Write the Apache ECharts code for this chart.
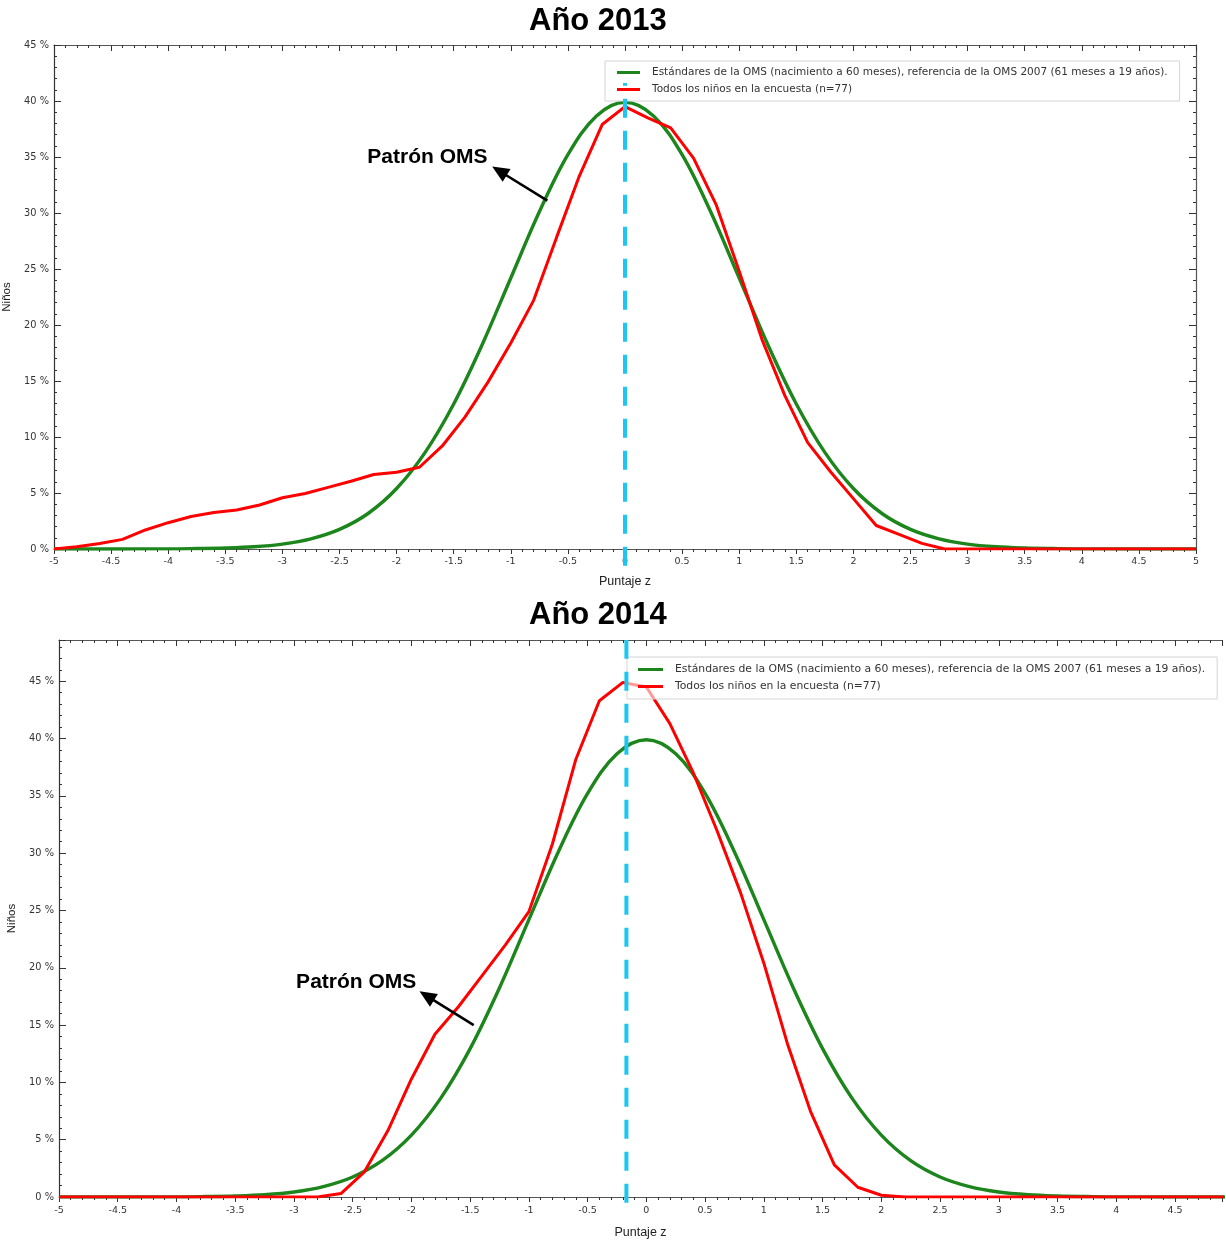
<!DOCTYPE html>
<html>
<head>
<meta charset="utf-8">
<title>Puntaje z – Años 2013 y 2014</title>
<script src="https://cdn.jsdelivr.net/npm/echarts@6/dist/echarts.min.js"></script>
<style>
  html, body { margin: 0; padding: 0; background: #fff; }
  #chart { width: 1226px; height: 1241px; }
</style>
</head>
<body>
<div id="chart"></div>
<script>
// ---- Data -------------------------------------------------------------
const nameOMS = 'Estándares de la OMS (nacimiento a 60 meses), referencia de la OMS 2007 (61 meses a 19 años).';
const nameEncuesta = 'Todos los niños en la encuesta (n=77)';
const titles = ['Año 2013', 'Año 2014'];

// WHO reference curve (% of children by z-score)
const zOMS = [-5, -4.75, -4.5, -4.25, -4, -3.75, -3.5, -3.25, -3, -2.75, -2.5, -2.25, -2, -1.75, -1.5, -1.25, -1, -0.75, -0.5, -0.25,
              0, 0.25, 0.5, 0.75, 1, 1.25, 1.5, 1.75, 2, 2.25, 2.5, 2.75, 3, 3.25, 3.5, 3.75, 4, 4.25, 4.5, 4.75, 5];
const pctOMS = [0, 0, 0, 0.01, 0.01, 0.04, 0.09, 0.2, 0.44, 0.91, 1.75, 3.17, 5.4, 8.63, 12.95, 18.26, 24.2, 30.11, 35.21, 38.67,
                39.89, 38.67, 35.21, 30.11, 24.2, 18.26, 12.95, 8.63, 5.4, 3.17, 1.75, 0.91, 0.44, 0.2, 0.09, 0.04, 0.01, 0.01, 0, 0, 0];

// Survey curves (z-score every 0.2)
const zEncuesta = [-5, -4.8, -4.6, -4.4, -4.2, -4, -3.8, -3.6, -3.4, -3.2, -3, -2.8, -2.6, -2.4, -2.2, -2, -1.8, -1.6, -1.4, -1.2, -1,
                   -0.8, -0.6, -0.4, -0.2, 0, 0.2, 0.4, 0.6, 0.8, 1, 1.2, 1.4, 1.6, 1.8, 2, 2.2, 2.4, 2.6, 2.8,
                   3, 3.2, 3.4, 3.6, 3.8, 4, 4.2, 4.4, 4.6, 4.8, 5];
const pct2013 = [0, 0.2, 0.5, 0.86, 1.7, 2.35, 2.9, 3.25, 3.48, 3.93, 4.58, 4.95, 5.5, 6.05, 6.65, 6.85, 7.3, 9.2, 11.8, 14.9, 18.4,
                 22.2, 27.8, 33.3, 37.9, 39.5, 38.5, 37.6, 34.9, 30.7, 24.8, 18.7, 13.7, 9.5, 6.9, 4.5, 2.1, 1.3, 0.5, 0,
                 0, 0, 0, 0, 0, 0, 0, 0, 0, 0, 0];
const pct2014 = [0, 0, 0, 0, 0, 0, 0, 0, 0, 0, 0, 0, 0.3, 2.2, 5.8, 10.3, 14.2, 16.6, 19.3, 22.0, 24.9,
                 30.8, 38.2, 43.3, 44.9, 44.5, 41.3, 37.0, 32.0, 26.6, 20.4, 13.4, 7.4, 2.8, 0.85, 0.15, 0, 0, 0, 0,
                 0, 0, 0, 0, 0, 0, 0, 0, 0, 0, 0];

// Mean z-score of each survey (dashed vertical line)
const zMedia = [0, -0.17];

// Axis ranges
const xMax = [5, 4.9];
const yMax = [45, 48.6];

// ---- Styling ------------------------------------------------------------
const GREEN = '#1c861c';
const RED = '#ff0000';
const BLUE = '#1cc6f2';
const smallFont = 'DejaVu Sans';
const mainFont = 'Liberation Sans, Arial, sans-serif';

const pairs = (xs, ys) => xs.map((x, i) => [x, ys[i]]);

// Annotation ("Patrón OMS" + arrow) in data coordinates for each panel
const notes = [
  { text: [-1.73, 35.0], from: [-0.68, 31.1], to: [-1.10, 33.75] },
  { text: [-2.47, 18.7], from: [-1.47, 15.0], to: [-1.87, 17.55] }
];

const grids = [
  { left: 54, right: 30, top: 45, bottom: 692, containLabel: false, outerBoundsMode: 'none' },
  { left: 59, right: 4, top: 640, bottom: 44, containLabel: false, outerBoundsMode: 'none' }
];

function bottomX(g) {
  return {
    type: 'value', gridIndex: g, position: 'bottom', min: -5, max: xMax[g], interval: 0.5,
    name: 'Puntaje z', nameLocation: 'middle', nameGap: g === 0 ? 26 : 29,
    nameTextStyle: { fontFamily: mainFont, fontSize: 12.5, color: '#222', verticalAlign: 'top' },
    axisLine: { onZero: false, lineStyle: { color: '#555', width: 1.2 } },
    axisTick: { inside: false, length: 5, lineStyle: { color: '#333' } },
    minorTick: { show: true, splitNumber: 5, length: 3, lineStyle: { color: '#333' } },
    axisLabel: { fontFamily: smallFont, fontSize: 9.5, color: '#333', margin: g === 0 ? 8 : 9, showMaxLabel: g === 0 },
    splitLine: { show: false }, minorSplitLine: { show: false }
  };
}
function topX(g) {
  return {
    type: 'value', gridIndex: g, position: 'top', min: -5, max: xMax[g], interval: 0.5,
    axisLine: { onZero: false, lineStyle: { color: '#555', width: 1.2 } },
    axisTick: { inside: true, length: 6, lineStyle: { color: '#333' } },
    minorTick: { show: true, splitNumber: 5, length: 3, lineStyle: { color: '#333' } },
    axisLabel: { show: false }, splitLine: { show: false }
  };
}
function leftY(g) {
  return {
    type: 'value', gridIndex: g, position: 'left', min: 0, max: yMax[g], interval: 5,
    name: 'Niños', nameLocation: 'middle', nameGap: g === 0 ? 39 : 41, nameRotate: 90,
    nameTextStyle: { fontFamily: mainFont, fontSize: 11.5, color: '#222' },
    axisLine: { show: true, onZero: false, lineStyle: { color: '#333', width: 1.2 } },
    axisTick: { show: true, inside: true, length: 7, lineStyle: { color: '#333' } },
    minorTick: { show: true, splitNumber: 5, length: 3, lineStyle: { color: '#333' } },
    axisLabel: { fontFamily: smallFont, fontSize: 9.8, color: '#333', margin: 5,
                 showMaxLabel: g === 0, formatter: v => v + ' %' },
    splitLine: { show: false }
  };
}

const xAxes = [bottomX(0), topX(0), bottomX(1), topX(1)];
const yAxes = [leftY(0), leftY(1), {
  type: 'value', gridIndex: 0, position: 'right', min: 0, max: yMax[0], interval: 5,
  axisLine: { show: true, onZero: false, lineStyle: { color: '#555', width: 1.2 } },
  axisTick: { show: true, inside: true, length: 7, lineStyle: { color: '#333' } },
  minorTick: { show: true, splitNumber: 5, length: 3, lineStyle: { color: '#333' } },
  axisLabel: { show: false }, splitLine: { show: false }
}];

const surveys = [pct2013, pct2014];
const series = [];
[0, 1].forEach(g => {
  const xi = g === 0 ? 0 : 2;
  const yi = g === 0 ? 0 : 1;
  const note = notes[g];
  series.push({
    name: nameOMS, type: 'line', xAxisIndex: xi, yAxisIndex: yi,
    data: pairs(zOMS, pctOMS), smooth: 0.35, showSymbol: false, symbol: 'none', color: GREEN,
    lineStyle: { color: GREEN, width: 3.4 }, z: 3, animation: false,
    markLine: {
      silent: true, animation: false,
      label: { show: false },
      lineStyle: { color: '#000', width: 2.6, type: 'solid' },
      data: [[
        { coord: note.from, symbol: 'none', symbolSize: 0 },
        { coord: note.to, symbol: 'triangle', symbolSize: [15, 17] }
      ]]
    },
    markPoint: {
      silent: true, animation: false, symbol: 'rect', symbolSize: 0,
      label: { show: true, position: 'inside', formatter: 'Patrón OMS', fontFamily: mainFont,
               fontSize: 21, fontWeight: 'bold', color: '#000' },
      data: [{ coord: note.text }]
    }
  });
  series.push({
    name: nameEncuesta, type: 'line', xAxisIndex: xi, yAxisIndex: yi,
    data: pairs(zEncuesta, surveys[g]), showSymbol: false, symbol: 'none', color: RED,
    lineStyle: { color: RED, width: 3 }, z: 3, animation: false
  });
  series.push({
    type: 'line', xAxisIndex: xi, yAxisIndex: yi, clip: false, silent: true,
    data: g === 0 ? [[zMedia[0], -1.5], [zMedia[0], 41.6]] : [[zMedia[1], -0.5], [zMedia[1], yMax[1]]],
    showSymbol: false, symbol: 'none', color: BLUE,
    lineStyle: { color: BLUE, width: 4, type: [19, 13] }, z: 10, animation: false
  });
});

const legendBase = {
  orient: 'vertical', icon: 'rect', itemHeight: 3,
  borderColor: '#d4d4d4', borderWidth: 1, backgroundColor: 'rgba(255,255,255,0.6)',
  data: [nameOMS, nameEncuesta], selectedMode: false
};

const option = {
  animation: false,
  backgroundColor: '#fff',
  title: [
    { text: titles[0], left: 529, top: 6, padding: 0,
      textStyle: { fontFamily: mainFont, fontSize: 31, fontWeight: 'bold', color: '#000' } },
    { text: titles[1], left: 529, top: 600, padding: 0,
      textStyle: { fontFamily: mainFont, fontSize: 31, fontWeight: 'bold', color: '#000' } }
  ],
  legend: [
    Object.assign({}, legendBase, {
      left: 605, top: 61, itemWidth: 23, itemGap: 6, padding: [6, 12, 6, 12],
      textStyle: { fontFamily: smallFont, fontSize: 10.5, color: '#333', padding: [0, 0, 0, 7] }
    }),
    Object.assign({}, legendBase, {
      left: 627, top: 657, itemWidth: 25, itemGap: 6, padding: [7, 12, 7, 11],
      textStyle: { fontFamily: smallFont, fontSize: 10.8, color: '#333', padding: [0, 0, 0, 7] }
    })
  ],
  grid: grids,
  xAxis: xAxes,
  yAxis: yAxes,
  series: series
};

const chart = echarts.init(document.getElementById('chart'), null, { renderer: 'canvas' });
chart.setOption(option);
</script>
</body>
</html>
